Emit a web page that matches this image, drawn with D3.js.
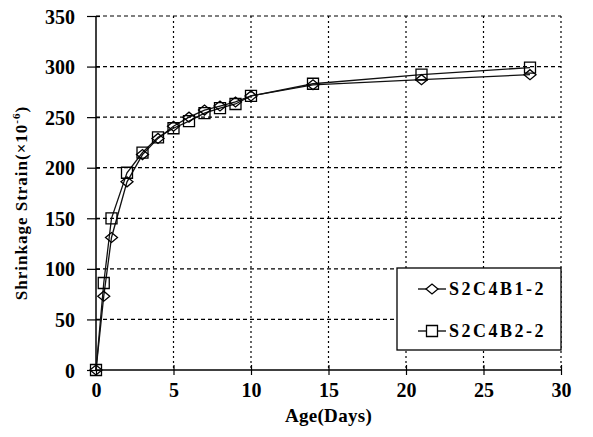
<!DOCTYPE html>
<html>
<head>
<meta charset="utf-8">
<script src="https://cdn.jsdelivr.net/npm/d3@7"></script>
<style>
  body { margin: 0; background: #fff; }
  svg { display: block; }
</style>
</head>
<body>
<svg id="chart"></svg>
<script>
const days = [0, 0.5, 1, 2, 3, 4, 5, 6, 7, 8, 9, 10, 14, 21, 28];
const strainB1 = [0, 73, 131, 186, 213, 229, 241, 250, 257, 261, 265, 271, 282, 287, 292];
const strainB2 = [0, 86, 150, 195, 215, 230, 239, 246, 254, 259, 263, 271, 283, 292, 299];
const seriesNames = ["S2C4B1-2", "S2C4B2-2"];
const xTicks = [0, 5, 10, 15, 20, 25, 30];
const yTicks = [0, 50, 100, 150, 200, 250, 300, 350];

const width = 593;
const height = 437;
const plotLeft = 96, plotRight = 561, plotTop = 16, plotBottom = 370;
const serif = "\"Liberation Serif\"";

const svg = d3.select("#chart")
  .attr("width", width).attr("height", height);

const xScale = d3.scaleLinear().domain([0, 30]).range([plotLeft, plotRight]);
const yScale = d3.scaleLinear().domain([0, 350]).range([plotBottom, plotTop]);

// dashed grid, including top and right borders
svg.append("g")
  .selectAll("line")
  .data(yTicks.slice(1))
  .enter()
  .append("line")
  .attr("x1", plotLeft).attr("x2", plotRight)
  .attr("y1", d => yScale(d)).attr("y2", d => yScale(d))
  .attr("stroke", "#000").attr("stroke-width", 1.2)
  .attr("stroke-dasharray", "4,3");

svg.append("g")
  .selectAll("line")
  .data(xTicks.slice(1))
  .enter()
  .append("line")
  .attr("x1", d => xScale(d)).attr("x2", d => xScale(d))
  .attr("y1", plotTop).attr("y2", plotBottom)
  .attr("stroke", "#000").attr("stroke-width", 1.2)
  .attr("stroke-dasharray", "2,3");

// axes
const xAxis = d3.axisBottom(xScale).tickValues(xTicks).tickSize(5).tickPadding(17);
const gx = svg.append("g").attr("transform", `translate(0,${plotBottom})`).call(xAxis);
gx.select(".domain").attr("stroke-width", 1.5).attr("d", `M${plotLeft},0H${plotRight}`);
gx.selectAll(".tick line").attr("y1", -5).attr("stroke-width", 1.2);
gx.selectAll(".tick text").attr("dy", "0.25em");

const yAxis = d3.axisLeft(yScale).tickValues(yTicks).tickSize(9).tickPadding(12);
const gy = svg.append("g").attr("transform", `translate(${plotLeft},0)`).call(yAxis);
gy.select(".domain").attr("stroke-width", 1.5).attr("d", `M0,${plotTop}V${plotBottom}`);
gy.selectAll(".tick line").attr("x2", 4).attr("x1", -9).attr("stroke-width", 1.2);
gy.selectAll(".tick text").attr("dy", "0.35em");

[gx, gy].forEach(g => g.selectAll(".tick text")
  .style("font-family", serif)
  .style("font-weight", "bold")
  .style("font-size", "20px"));

// axis titles
svg.append("text")
  .attr("x", (plotLeft + plotRight) / 2)
  .attr("y", 422)
  .attr("text-anchor", "middle")
  .style("font-size", "19px")
  .style("letter-spacing", "0.3px")
  .text("Age(Days)");

const yTitle = svg.append("text")
  .attr("transform", "translate(27,203) rotate(-90)")
  .attr("text-anchor", "middle")
  .style("font-size", "17px")
  .style("letter-spacing", "1px");
yTitle.append("tspan").text("Shrinkage Strain(×10");
yTitle.append("tspan").style("font-size", "11px").attr("dy", -7).text("-6");
yTitle.append("tspan").attr("dy", 7).text(")");

// series
const line = d3.line()
  .x(d => xScale(d[0]))
  .y(d => yScale(d[1]));

const series = [
  { name: seriesNames[0], values: days.map((d, i) => [d, strainB1[i]]), shape: "diamond" },
  { name: seriesNames[1], values: days.map((d, i) => [d, strainB2[i]]), shape: "square" }
];

const markerPath = (shape) => shape === "diamond"
  ? "M-6,0L0,-5L6,0L0,5Z"
  : "M-5.5,-5.5H5.5V5.5H-5.5Z";

series.forEach(s => {
  svg.append("path")
    .datum(s.values)
    .attr("d", line)
    .attr("fill", "none")
    .attr("stroke", "#111")
    .attr("stroke-width", 1.3);
});

series.forEach(s => {
  svg.append("g")
    .selectAll("path")
    .data(s.values)
    .enter()
    .append("path")
    .attr("transform", d => `translate(${xScale(d[0])},${yScale(d[1])})`)
    .attr("d", markerPath(s.shape))
    .attr("fill", "none")
    .attr("stroke", "#000")
    .attr("stroke-width", 1.3);
});

// legend
const legend = svg.append("g");
legend.append("rect")
  .attr("x", 397).attr("y", 268)
  .attr("width", 164).attr("height", 82)
  .attr("fill", "#fff").attr("stroke", "#000").attr("stroke-width", 1.3);

series.forEach((s, i) => {
  const ly = 289 + i * 42;
  legend.append("line")
    .attr("x1", 418).attr("x2", 446)
    .attr("y1", ly).attr("y2", ly)
    .attr("stroke", "#000").attr("stroke-width", 1.3);
  legend.append("path")
    .attr("transform", `translate(432,${ly})`)
    .attr("d", markerPath(s.shape))
    .attr("fill", "#fff")
    .attr("stroke", "#000").attr("stroke-width", 1.3);
  legend.append("text")
    .attr("x", 449).attr("y", ly + 6)
    .style("font-size", "18px")
    .style("letter-spacing", "2.5px")
    .text(s.name);
});

// serif bold for the free-standing labels
svg.selectAll(":scope > text, :scope > g > text")
  .style("font-family", serif)
  .style("font-weight", "bold")
  .attr("fill", "#000");
</script>
</body>
</html>
